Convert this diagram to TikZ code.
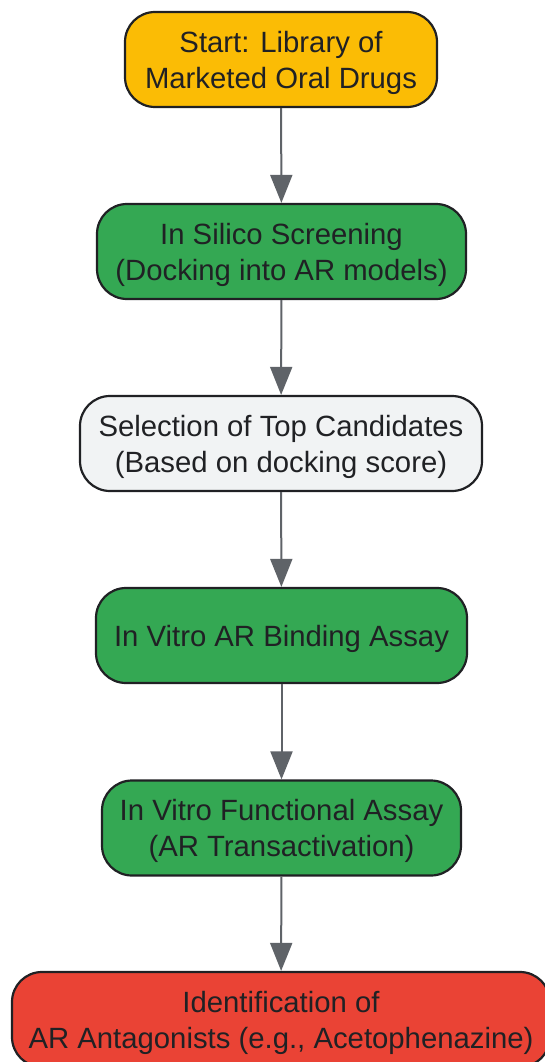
\documentclass[tikz,border=0pt]{standalone}
\usepackage{fontspec}
\setmainfont{Liberation Sans}
\usetikzlibrary{arrows.meta}
\definecolor{cyellow}{HTML}{FBBC05}
\definecolor{cgreen}{HTML}{34A853}
\definecolor{cgray}{HTML}{F1F3F4}
\definecolor{cred}{HTML}{EA4335}
\definecolor{cline}{HTML}{5F6368}
\definecolor{ctext}{HTML}{202124}
\begin{document}
\begin{tikzpicture}[x=1pt,y=-1pt,
 box/.style={draw=ctext, line width=2.2pt, rounded corners=30pt, inner sep=0pt, minimum height=95pt},
 txt/.style={align=center, font=\fontsize{29.3}{36}\selectfont, text=ctext, inner sep=0pt, yshift=-3pt},
 arr/.style={draw=cline, line width=2pt, -{Triangle[length=28pt,width=22pt]}}]
\useasboundingbox (0,0) rectangle (545,1062);
\node[box, fill=cyellow, minimum width=312pt, label={[txt]center:{Start: Library of\\Marketed Oral Drugs}}] (n1) at (281,59.5) {};
\node[box, fill=cgreen, minimum width=369pt, label={[txt]center:{In Silico Screening\\(Docking into AR models)}}] (n2) at (281.5,251.5) {};
\node[box, fill=cgray, minimum width=402pt, label={[txt]center:{Selection of Top Candidates\\(Based on docking score)}}] (n3) at (281,443.5) {};
\node[box, fill=cgreen, minimum width=371pt, label={[txt]center:{In Vitro AR Binding Assay}}] (n4) at (281.5,635.5) {};
\node[box, fill=cgreen, minimum width=359pt, label={[txt]center:{In Vitro Functional Assay\\(AR Transactivation)}}] (n5) at (281.5,828) {};
\node[box, fill=cred, minimum width=538pt, label={[txt]center:{Identification of\\AR Antagonists (e.g., Acetophenazine)}}] (n6) at (281,1019.5) {};
\draw[arr] (n1) -- (n2);
\draw[arr] (n2) -- (n3);
\draw[arr] (n3) -- (n4);
\draw[arr] (n4) -- (n5);
\draw[arr] (n5) -- (n6);
\end{tikzpicture}
\end{document}
